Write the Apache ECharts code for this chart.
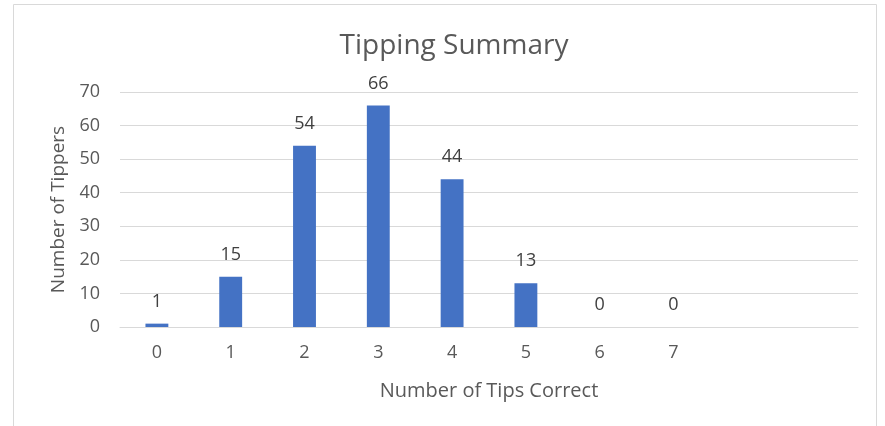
<!DOCTYPE html>
<html>
<head>
<meta charset="utf-8">
<script src="https://cdn.jsdelivr.net/npm/echarts@6/dist/echarts.min.js"></script>
<style>html,body{margin:0;padding:0;background:#fff}#c{width:885px;height:426px}</style>
</head>
<body>
<div id="c"></div>
<script>
const categories = ['0','1','2','3','4','5','6','7','8','9'];
const tickLabels = ['0','1','2','3','4','5','6','7','',''];
const tippers = [1, 15, 54, 66, 44, 13, 0, 0, null, null];
const yTicks = [0, 10, 20, 30, 40, 50, 60, 70];

const chart = echarts.init(document.getElementById('c'));
const font = '"Open Sans", "Noto Sans", sans-serif';
chart.setOption({
  animation: false,
  textStyle: { fontFamily: font },
  graphic: [{
    type: 'rect',
    shape: { x: 13.5, y: 4.5, width: 863, height: 440 },
    style: { fill: 'none', stroke: '#D9D9D9', lineWidth: 1 },
    silent: true
  }],
  title: {
    text: 'Tipping Summary',
    left: 449, top: 27, textAlign: 'center',
    textStyle: { fontFamily: font, fontSize: 28, fontWeight: 'normal', color: '#595959' }
  },
  grid: { left: 120, right: 27, top: 92, bottom: 99 },
  xAxis: {
    type: 'category',
    data: categories,
    name: 'Number of Tips Correct',
    nameLocation: 'middle',
    nameGap: 54,
    nameTextStyle: { fontFamily: font, fontSize: 20, color: '#595959' },
    axisLine: { lineStyle: { color: '#D9D9D9' } },
    axisTick: { show: false },
    axisLabel: {
      fontFamily: font, fontSize: 18, color: '#595959', margin: 17,
      formatter: (v, i) => tickLabels[i]
    }
  },
  yAxis: {
    type: 'value',
    min: yTicks[0], max: yTicks[yTicks.length - 1], interval: 10,
    name: 'Number of Tippers',
    nameLocation: 'middle',
    nameGap: 48,
    nameTextStyle: { fontFamily: font, fontSize: 19, color: '#595959' },
    axisLine: { show: false },
    axisTick: { show: false },
    splitLine: { lineStyle: { color: '#D9D9D9', width: 1 } },
    axisLabel: { fontFamily: font, fontSize: 18, color: '#595959', margin: 20 }
  },
  series: [{
    type: 'bar',
    data: tippers,
    barWidth: '31%',
    itemStyle: { color: '#4472C4' },
    label: {
      show: true, position: 'top', distance: 13,
      fontFamily: font, fontSize: 18, color: '#404040',
      formatter: p => (p.value == null ? '' : String(p.value))
    }
  }]
});
</script>
</body>
</html>
